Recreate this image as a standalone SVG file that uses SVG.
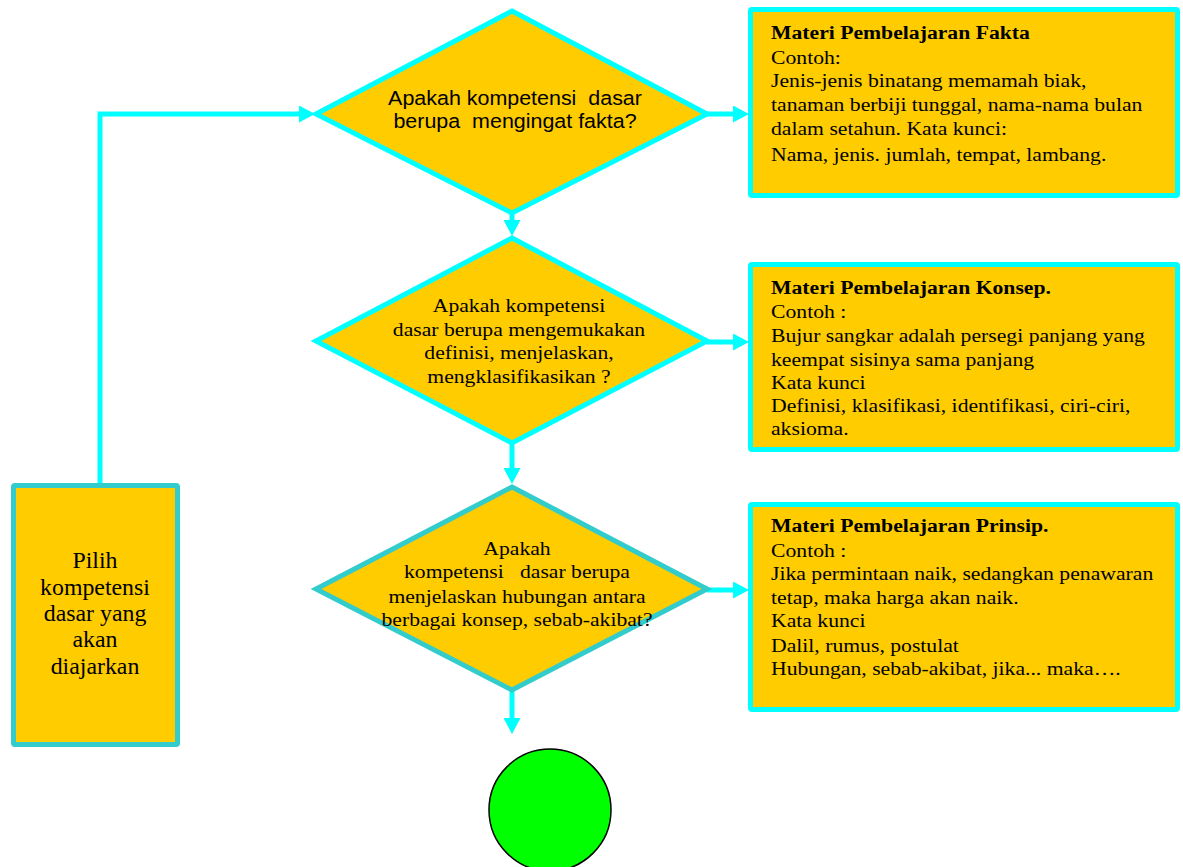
<svg xmlns="http://www.w3.org/2000/svg" width="1183" height="867" viewBox="0 0 1183 867">
<style>
.shape{fill:#FFCC00;stroke-width:5}
.cy{stroke:#00FFFF}
.tq{stroke:#33CCCC}
.conn{fill:none;stroke:#00FFFF;stroke-width:5}
.serif{font-family:"Liberation Serif","Times New Roman",serif;fill:#000}
.sans{font-family:"Liberation Sans",Arial,sans-serif;fill:#000}
.b{font-weight:bold}
</style>
<defs>
<marker id="ah" markerUnits="userSpaceOnUse" markerWidth="16" markerHeight="17" refX="0" refY="8.5" orient="auto" viewBox="0 0 16 17">
<path d="M0,0 L16,8.5 L0,17 Z" fill="#00FFFF"/>
</marker>
</defs>
<g id="connectors">
<path class="conn" d="M100,484 V114 H299" marker-end="url(#ah)"/>
<path class="conn" d="M707,114 H733" marker-end="url(#ah)"/>
<path class="conn" d="M512,213 V220" marker-end="url(#ah)"/>
<path class="conn" d="M707,342 H733" marker-end="url(#ah)"/>
<path class="conn" d="M512,443 V468" marker-end="url(#ah)"/>
<path class="conn" d="M707,590 H733" marker-end="url(#ah)"/>
<path class="conn" d="M512,690 V718" marker-end="url(#ah)"/>
</g>
<g id="d1">
<polygon class="shape cy" points="512,11 707,114 512,213 316,114"/>
<g transform="translate(515,0) scale(1.1,1)">
<text class="sans" font-size="19.5" text-anchor="middle" xml:space="preserve" x="0" y="105">Apakah kompetensi  dasar</text>
<text class="sans" font-size="19.5" text-anchor="middle" xml:space="preserve" x="0" y="128">berupa  mengingat fakta?</text>
</g>
</g>
<g id="d2">
<polygon class="shape cy" points="512,238 707,341 512,443 316,341"/>
<g transform="translate(519,0) scale(1.11,1)" class="serif" font-size="19.5" text-anchor="middle">
<text x="0" y="312">Apakah kompetensi</text>
<text x="0" y="336">dasar berupa mengemukakan</text>
<text x="0" y="359">definisi, menjelaskan,</text>
<text x="0" y="383">mengklasifikasikan ?</text>
</g>
</g>
<g id="d3">
<polygon class="shape tq" points="512,487 707,589 512,690 316,589"/>
<g transform="translate(517,0) scale(1.11,1)" class="serif" font-size="19.5" text-anchor="middle">
<text x="0" y="555">Apakah</text>
<text x="0" y="578" xml:space="preserve">kompetensi   dasar berupa</text>
<text x="0" y="603">menjelaskan hubungan antara</text>
<text x="0" y="626">berbagai konsep, sebab-akibat?</text>
</g>
</g>
<g id="start">
<rect class="shape tq" x="13.5" y="485.5" width="164" height="259" rx="1.5"/>
<g transform="translate(95,0) scale(1.06,1)" class="serif" font-size="22.5" text-anchor="middle">
<text x="0" y="568">Pilih</text>
<text x="0" y="595">kompetensi</text>
<text x="0" y="621">dasar yang</text>
<text x="0" y="647">akan</text>
<text x="0" y="674">diajarkan</text>
</g>
</g>
<g id="fakta">
<rect class="shape cy" x="750.5" y="9.5" width="427" height="186" rx="1.5"/>
<g transform="translate(771,0) scale(1.13,1)" class="serif" font-size="19.2">
<text class="b" x="0" y="39">Materi Pembelajaran Fakta</text>
<text x="0" y="64">Contoh:</text>
<text x="0" y="87">Jenis-jenis binatang memamah biak,</text>
<text x="0" y="111">tanaman berbiji tunggal, nama-nama bulan</text>
<text x="0" y="135">dalam setahun. Kata kunci:</text>
<text x="0" y="161">Nama, jenis. jumlah, tempat, lambang.</text>
</g>
</g>
<g id="konsep">
<rect class="shape cy" x="750.5" y="264.5" width="427" height="185" rx="1.5"/>
<g transform="translate(771,0) scale(1.13,1)" class="serif" font-size="19.2">
<text class="b" x="0" y="294">Materi Pembelajaran Konsep.</text>
<text x="0" y="318">Contoh :</text>
<text x="0" y="342">Bujur sangkar adalah persegi panjang yang</text>
<text x="0" y="366">keempat sisinya sama panjang</text>
<text x="0" y="389">Kata kunci</text>
<text x="0" y="412">Definisi, klasifikasi, identifikasi, ciri-ciri,</text>
<text x="0" y="435">aksioma.</text>
</g>
</g>
<g id="prinsip">
<rect class="shape cy" x="750.5" y="504.5" width="427" height="205" rx="1.5"/>
<g transform="translate(771,0) scale(1.13,1)" class="serif" font-size="19.2">
<text class="b" x="0" y="532">Materi Pembelajaran Prinsip.</text>
<text x="0" y="557">Contoh :</text>
<text x="0" y="580">Jika permintaan naik, sedangkan penawaran</text>
<text x="0" y="604">tetap, maka harga akan naik.</text>
<text x="0" y="627">Kata kunci</text>
<text x="0" y="652">Dalil, rumus, postulat</text>
<text x="0" y="675">Hubungan, sebab-akibat, jika... maka….</text>
</g>
</g>
<g id="end">
<circle cx="550" cy="810" r="61" fill="#00FF00" stroke="#000" stroke-width="1.5"/>
</g>
</svg>
